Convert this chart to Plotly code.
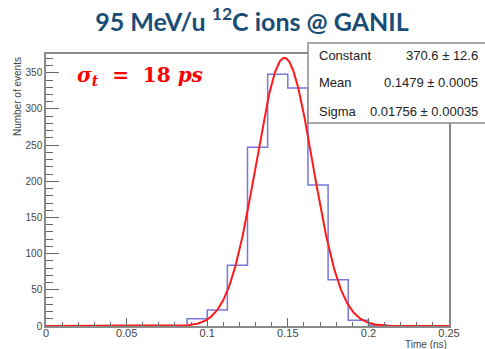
import numpy as np
import plotly.graph_objects as go

# Histogram data (bin edges in ns, counts)
bin_edges = [0.0875, 0.1, 0.1125, 0.125, 0.1375, 0.15, 0.1625, 0.175, 0.1875, 0.2, 0.2125]
counts = [10, 22, 84, 247, 348, 329, 195, 64, 8, 1]

# Gaussian fit parameters (from stat box)
fit_constant = 370.6
fit_mean = 0.1479
fit_sigma = 0.01756

stat_labels = ["Constant", "Mean", "Sigma"]
stat_values = ["370.6 ± 12.6", "0.1479 ± 0.0005", "0.01756 ± 0.00035"]

x_ticks = [0, 0.05, 0.1, 0.15, 0.2, 0.25]
x_ticklabels = ["0", "0.05", "0.1", "0.15", "0.2", "0.25"]
y_ticks = [0, 50, 100, 150, 200, 250, 300, 350]

W, H = 485, 349
L, R, T, B = 46, 36, 54, 23
pw, ph = W - L - R, H - T - B

def px(xp):
    return (xp - L) / pw

def py(yp):
    return (H - B - yp) / ph

fig = go.Figure()

# histogram as step outline
hx = [bin_edges[0]] + bin_edges
hy = [0] + counts + [0]
fig.add_trace(go.Scatter(x=hx, y=hy, mode="lines", line=dict(color="#7777dd", width=1.5, shape="hv"),
                         hoverinfo="skip", showlegend=False, cliponaxis=False))

# fit curve
xf = np.linspace(0, 0.25, 600)
yf = fit_constant * np.exp(-0.5 * ((xf - fit_mean) / fit_sigma) ** 2)
fig.add_trace(go.Scatter(x=xf, y=yf, mode="lines", line=dict(color="#ff1a1a", width=2),
                         hoverinfo="skip", showlegend=False))

axis_common = dict(showline=True, mirror=True, linecolor="#8a8a8a", linewidth=1.5, automargin=False,
                   showgrid=False, zeroline=False, ticks="inside", tickcolor="#666")

fig.update_xaxes(range=[0, 0.25], tickvals=x_ticks, ticktext=x_ticklabels, ticklen=8,
                 ticklabelstandoff=-4,
                 tickfont=dict(family="Liberation Sans", size=11, color="#444"),
                 minor=dict(dtick=0.01, ticklen=4, ticks="inside", tickcolor="#666"),
                 **axis_common)
fig.update_yaxes(range=[0, 376], tickvals=y_ticks, ticklen=13,
                 tickfont=dict(family="Liberation Sans", size=10, color="#444"),
                 minor=dict(dtick=10, ticklen=7, ticks="inside", tickcolor="#666"),
                 **axis_common)

shapes = [dict(type="rect", xref="paper", yref="paper", x0=px(308), x1=px(495), y0=py(123), y1=py(43),
               line=dict(color="#8a8a8a", width=1.5), fillcolor="white", layer="above")]

ann = []
row_y = [55, 83, 111]
for lab, val, yy in zip(stat_labels, stat_values, row_y):
    ann.append(dict(xref="paper", yref="paper", x=px(317), y=py(yy), text=lab, showarrow=False,
                    xanchor="left", yanchor="middle",
                    font=dict(family="Liberation Sans", size=13, color="#222")))
    ann.append(dict(xref="paper", yref="paper", x=px(480), y=py(yy), text=val, showarrow=False,
                    xanchor="right", yanchor="middle",
                    font=dict(family="Liberation Sans", size=13, color="#222")))

ann.append(dict(xref="paper", yref="paper", x=1, y=py(344), text="Time (ns)", showarrow=False,
                xanchor="right", yanchor="middle",
                font=dict(family="Liberation Sans", size=10, color="#444")))
ann.append(dict(xref="paper", yref="paper", x=px(17), y=py(97), text="Number of events", showarrow=False,
                textangle=-90, xanchor="center", yanchor="middle",
                font=dict(family="Liberation Sans", size=10, color="#444")))
ann.append(dict(xref="paper", yref="paper", x=px(75), y=py(76),
                text="<b><i>σ</i><sub><i>t</i></sub>  =  18 <i>ps</i></b>", showarrow=False,
                xanchor="left", yanchor="middle",
                font=dict(family="DejaVu Serif", size=20, color="#ff0000")))

fig.update_layout(
    width=W, height=H, margin=dict(l=L, r=R, t=T, b=B, autoexpand=False),
    paper_bgcolor="white", plot_bgcolor="white",
    title=dict(text="<b>95 MeV/u <sup>12</sup>C ions @ GANIL</b>", x=252 / W, xanchor="center",
               xref="container", yref="container", y=1 - 22 / H, yanchor="middle",
               font=dict(family="Lato", size=25, color="#1a4d75")),
    shapes=shapes, annotations=ann, showlegend=False,
)

fig.write_html("out.html")
